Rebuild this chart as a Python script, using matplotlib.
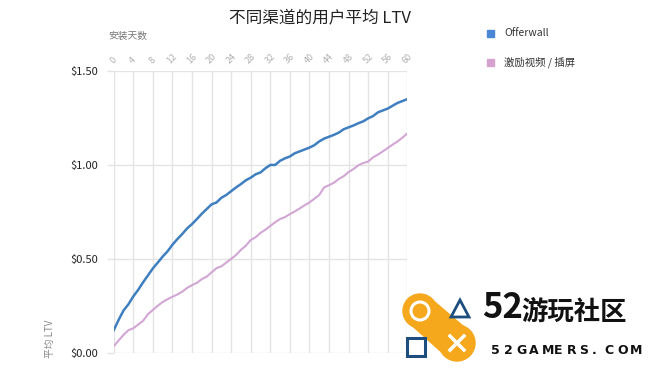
import numpy as np
import matplotlib
matplotlib.use('Agg')
import matplotlib.pyplot as plt
from matplotlib.patches import Rectangle, Polygon, Ellipse

plt.rcParams['font.family'] = ['Noto Sans CJK SC', 'DejaVu Sans']

# 数据（按图读取的每日平均 LTV）
days = list(range(61))
offerwall = [0.120, 0.175, 0.225, 0.258, 0.300, 0.335, 0.375, 0.412, 0.449, 0.480,
             0.512, 0.540, 0.575, 0.605, 0.632, 0.662, 0.685, 0.712, 0.740, 0.765,
             0.790, 0.800, 0.825, 0.840, 0.860, 0.880, 0.898, 0.918, 0.932, 0.950,
             0.960, 0.982, 1.000, 1.000, 1.022, 1.035, 1.045, 1.062, 1.072, 1.082,
             1.092, 1.105, 1.125, 1.140, 1.150, 1.160, 1.172, 1.190, 1.200, 1.210,
             1.222, 1.232, 1.248, 1.260, 1.280, 1.290, 1.300, 1.315, 1.330, 1.340,
             1.350]
rewarded = [0.035, 0.065, 0.095, 0.120, 0.130, 0.150, 0.170, 0.205, 0.228, 0.250,
            0.270, 0.285, 0.298, 0.310, 0.325, 0.345, 0.360, 0.372, 0.392, 0.405,
            0.428, 0.450, 0.460, 0.480, 0.500, 0.520, 0.548, 0.570, 0.600, 0.615,
            0.638, 0.655, 0.675, 0.695, 0.712, 0.722, 0.738, 0.752, 0.768, 0.785,
            0.800, 0.820, 0.840, 0.880, 0.892, 0.905, 0.925, 0.940, 0.962, 0.978,
            0.998, 1.010, 1.018, 1.040, 1.055, 1.072, 1.090, 1.108, 1.125, 1.145,
            1.168]
series_names = ['Offerwall', '激励视频 / 插屏']
x_ticks = list(range(0, 61, 4))
y_ticks = [0.0, 0.5, 1.0, 1.5]
y_labels = ['$0.00', '$0.50', '$1.00', '$1.50']

line_colors = ['#3f7fc0', '#d2a6d4']
legend_colors = ['#4a88d6', '#d6a2d0']
grid_c = '#e4e4e4'

fig = plt.figure(figsize=(6.5, 3.71), dpi=100)
ax = fig.add_axes([0.175, 0.0493, 0.4516, 0.7593])

ax.plot(days, offerwall, color=line_colors[0], lw=1.8, zorder=3)
ax.plot(days, rewarded, color=line_colors[1], lw=1.5, zorder=3)

ax.set_xlim(0, 60)
ax.set_ylim(0, 1.5)
ax.xaxis.tick_top()
ax.set_xticks(x_ticks)
ax.set_xticklabels([str(t) for t in x_ticks], rotation=45, ha='center',
                   va='bottom', fontsize=6.5, color='#b0b0b0')
ax.set_yticks(y_ticks)
ax.set_yticklabels(y_labels, fontsize=8, color='#222222', fontweight='medium')
ax.tick_params(axis='x', length=0, pad=4)
ax.tick_params(axis='y', length=5, color=grid_c, width=1, pad=6)
ax.grid(True, color=grid_c, lw=1)
for s in ax.spines.values():
    s.set_visible(False)

# 标题与轴标题
fig.text(320 / 650, 1 - 18 / 371, '不同渠道的用户平均 LTV', ha='center', va='center',
         fontsize=12, color='#222222')
fig.text(108 / 650, 1 - 36 / 371, '安装天数', ha='left', va='center',
         fontsize=7, color='#777777')
fig.text(50 / 650, 1 - 358 / 371, '平均 LTV', ha='center', va='bottom',
         rotation=90, fontsize=7, color='#888888')

# 图例
for i, name in enumerate(series_names):
    yy = 1 - (33 + 29 * i) / 371
    fig.patches.append(Rectangle((487 / 650, yy - 3.5 / 371), 7 / 650, 7 / 371,
                                 transform=fig.transFigure, color=legend_colors[i]))
    fig.text(504 / 650, yy, name, ha='left', va='center', fontsize=7.5, color='#333333')


# 水印
def fx(px):
    return px / 650


def fy(py):
    return 1 - py / 371


orange = '#f5a81c'
navy = '#1d4e7e'
tr = fig.transFigure


def fcirc(cx, cy, r, **kw):
    return Ellipse((fx(cx), fy(cy)), 2 * r / 650, 2 * r / 371, transform=tr, **kw)


fig.patches.append(fcirc(420, 311, 17, color=orange))
fig.patches.append(fcirc(457, 343, 18, color=orange))
fig.patches.append(Polygon([(fx(407), fy(321)), (fx(430), fy(298)),
                            (fx(470), fy(332)), (fx(446), fy(356))],
                           closed=True, transform=tr, color=orange))
fig.patches.append(fcirc(420, 311, 9, fill=False, ec='white', lw=2.2))
fig.patches.append(Polygon([(fx(451), fy(317)), (fx(469), fy(317)), (fx(460), fy(300))],
                           closed=True, fill=False, transform=tr, ec=navy, lw=2))
fig.patches.append(Rectangle((fx(407), fy(356)), 18 / 650, 18 / 371, fill=False,
                             transform=tr, ec=navy, lw=2.2))
fig.lines.append(plt.Line2D([fx(450), fx(464)], [fy(336), fy(350)], transform=tr,
                            color='white', lw=2.5))
fig.lines.append(plt.Line2D([fx(450), fx(464)], [fy(350), fy(336)], transform=tr,
                            color='white', lw=2.5))
fig.text(fx(482), fy(307), '52', ha='left', va='center', fontsize=25,
         fontweight='bold', color='#111111', fontstretch='condensed')
fig.text(fx(521), fy(312), '游玩社区', ha='left', va='center', fontsize=19,
         fontweight='heavy', color='#111111')
for k, ch in enumerate('52GAMERS.COM'):
    fig.text(fx(491 + k * 12.6), fy(350.5), ch, ha='left', va='center', fontsize=9,
             fontweight='bold', color='#111111', family='DejaVu Sans')

fig.savefig('out.png', dpi=100)
